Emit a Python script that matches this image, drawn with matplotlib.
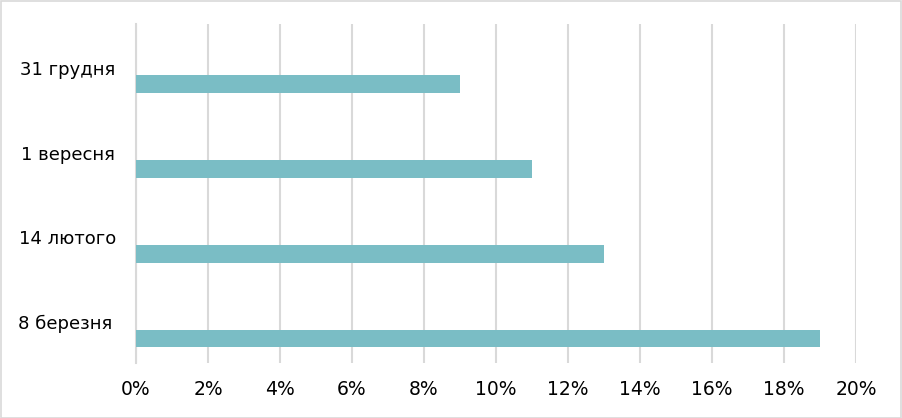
import matplotlib
matplotlib.use("Agg")
import matplotlib.pyplot as plt
from matplotlib.patches import Rectangle
from matplotlib.transforms import blended_transform_factory, offset_copy

# дані
categories = ["31 грудня", "1 вересня", "14 лютого", "8 березня "]
values = [9, 11, 13, 19]  # %
ticks = [0, 2, 4, 6, 8, 10, 12, 14, 16, 18, 20]

W, H = 902, 418
fig = plt.figure(figsize=(W / 100, H / 100), dpi=100)
fig.patch.set_facecolor("white")
ax = fig.add_axes([136 / W, (H - 363) / H, (856 - 136) / W, (363 - 24) / H])

bar_off = 0.21
bar_h = 0.21
pos = [i + bar_off for i in range(len(categories))]
ax.barh(pos, values, height=bar_h, color="#7ABDC5", zorder=3)

ax.set_xlim(0, 20)
ax.set_ylim(len(categories) - 0.5, -0.5)
ax.set_xticks(ticks)
ax.set_xticklabels([f"{t}%" for t in ticks], fontsize=13.5)
ax.tick_params(axis="x", length=0, pad=12)
ax.set_yticks([])
ax.grid(axis="x", color="#D9D9D9", linewidth=1.5, zorder=0)
ax.axvline(0, color="#D9D9D9", linewidth=1.5, zorder=1, clip_on=False)
for s in ax.spines.values():
    s.set_visible(False)

# підписи категорій
tr = offset_copy(blended_transform_factory(ax.transAxes, ax.transData), fig=fig, x=-68, y=0, units="dots")
for i, c in enumerate(categories):
    ax.text(0, i + 0.04, c, transform=tr, ha="center", va="center", fontsize=13)

fig.add_artist(Rectangle((0.5 / W, 0.5 / H), 1 - 1.5 / W, 1 - 1.5 / H, transform=fig.transFigure,
                         fill=False, edgecolor="#D9D9D9", linewidth=1.2))

fig.savefig("out.png", dpi=100, facecolor="white")
